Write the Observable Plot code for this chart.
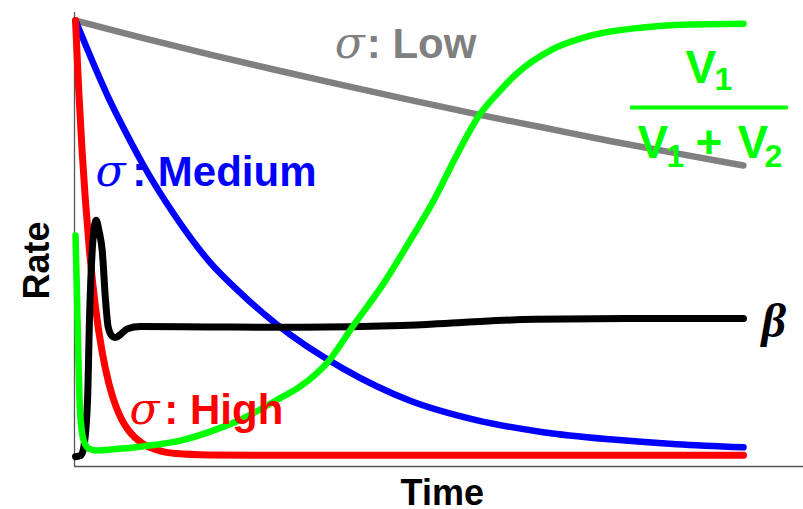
<!DOCTYPE html>
<html>
<head>
<meta charset="utf-8">
<script src="https://cdn.jsdelivr.net/npm/d3@7"></script>
<script src="https://cdn.jsdelivr.net/npm/@observablehq/plot@0.6"></script>
<style>
  body { margin: 0; background: #fff; }
  #chart svg { display: block; }
</style>
</head>
<body>
<div id="chart"></div>
<script>
// Rate curves over normalised time (0 = start, 1 = end of run)

// σ: Low
const timeLow = [0, 0.1, 0.2, 0.3, 0.4, 0.5, 0.6, 0.7, 0.8, 0.9, 1.0];
const rateLow = [1.000, 0.961, 0.924, 0.889, 0.855, 0.822, 0.790, 0.760, 0.730, 0.702, 0.675];

// σ: Medium
const timeMedium = [0, 0.025, 0.05, 0.075, 0.1, 0.15, 0.2, 0.25, 0.3, 0.4, 0.5, 0.6, 0.7, 0.8, 0.9, 1.0];
const rateMedium = [1.0, 0.91, 0.825, 0.75, 0.68, 0.56, 0.46, 0.385, 0.32, 0.22, 0.148, 0.104, 0.077, 0.061, 0.050, 0.043];

// σ: High
const timeHigh = [0, 0.005, 0.01, 0.02, 0.03, 0.04, 0.05, 0.06, 0.07, 0.08, 0.1, 0.12, 0.15, 0.2, 0.3, 0.5, 0.75, 1.0];
const rateHigh = [1.0, 0.839, 0.705, 0.50, 0.356, 0.256, 0.186, 0.137, 0.103, 0.080, 0.052, 0.038, 0.029, 0.026, 0.025, 0.025, 0.025, 0.025];

// β
const timeBeta = [0, 0.008, 0.012, 0.018, 0.021, 0.025, 0.028, 0.031, 0.035, 0.040, 0.045, 0.049, 0.055, 0.060, 0.068, 0.078, 0.097, 0.2, 0.337, 0.488, 0.578, 0.687, 0.846, 1.0];
const rateBeta = [0.022, 0.025, 0.040, 0.148, 0.334, 0.484, 0.535, 0.552, 0.530, 0.484, 0.372, 0.312, 0.292, 0.289, 0.297, 0.309, 0.314, 0.313, 0.312, 0.316, 0.323, 0.330, 0.332, 0.332];

// V1 / (V1 + V2)
const timeShare = [0, 0.002, 0.004, 0.006, 0.009, 0.013, 0.02, 0.03, 0.06, 0.1, 0.157, 0.207, 0.25, 0.3, 0.337, 0.377, 0.416, 0.461, 0.501, 0.536, 0.572, 0.606, 0.626, 0.662, 0.711, 0.771, 0.846, 0.92, 1.0];
const rateShare = [0.518, 0.40, 0.26, 0.15, 0.085, 0.055, 0.040, 0.036, 0.039, 0.045, 0.058, 0.081, 0.107, 0.148, 0.18, 0.233, 0.316, 0.41, 0.507, 0.596, 0.702, 0.791, 0.827, 0.883, 0.933, 0.966, 0.984, 0.991, 0.993];

const colors = {low: "#808080", medium: "#0000ff", high: "#ff0000", beta: "#000000", share: "#00ff00"};

const rows = (ts, vs) => ts.map((t, i) => ({t, rate: vs[i]}));

const sans = "'Liberation Sans', Arial, Helvetica, sans-serif";
const serif = "'Liberation Serif', 'Times New Roman', serif";
const sigmaFont = "'DejaVu Serif', 'Liberation Serif', serif";

const xDomain = [-0.0015, 1.0898];
const yDomain = [0, 1.018];

const curve = (data, color, w) => Plot.line(data, {
  x: "t", y: "rate", stroke: color, strokeWidth: w,
  curve: "monotone-x", strokeLinecap: "round", strokeLinejoin: "round"
});

// σ labels: italic serif σ followed by bold sans text
const sigmaLabels = [
  {name: ": Low",    color: colors.low,    tSigma: 0.388, tText: 0.436, rate: 0.917},
  {name: ": Medium", color: colors.medium, tSigma: 0.0300, tText: 0.0848, rate: 0.630},
  {name: ": High",   color: colors.high,   tSigma: 0.0808, tText: 0.1330, rate: 0.0964}
];

// fraction label anchor (centre of the bar)
const frac = {t: 0.949, rate: 0.805};
const fracHalf = 0.118;

const fracText = (text, dx, dy, size) => Plot.text([frac], {
  x: "t", y: "rate", text: () => text, dx, dy,
  fill: colors.share, fontSize: size, fontWeight: "bold", fontFamily: sans,
  textAnchor: "start", lineAnchor: "bottom"
});

const chart = Plot.plot({
  width: 803,
  height: 509,
  marginLeft: 74,
  marginRight: 0,
  marginTop: 12,
  marginBottom: 43,
  x: {domain: xDomain, axis: null},
  y: {domain: yDomain, axis: null},
  style: {background: "white", overflow: "visible"},
  marks: [
    Plot.ruleX([xDomain[0]], {stroke: "#555", strokeWidth: 1.3}),
    Plot.ruleY([0], {stroke: "#555", strokeWidth: 1.3}),

    curve(rows(timeLow, rateLow), colors.low, 6.5),
    curve(rows(timeMedium, rateMedium), colors.medium, 6.5),
    curve(rows(timeHigh, rateHigh), colors.high, 7),
    curve(rows(timeBeta, rateBeta), colors.beta, 7),
    curve(rows(timeShare, rateShare), colors.share, 6.5),

    // σ labels
    Plot.text(sigmaLabels, {
      x: "tSigma", y: "rate", text: () => "σ", fill: "color",
      fontSize: 44, fontStyle: "italic", fontFamily: sigmaFont,
      textAnchor: "start", lineAnchor: "bottom"
    }),
    Plot.text(sigmaLabels, {
      x: "tText", y: "rate", text: "name", fill: "color",
      fontSize: 42, fontWeight: "bold", fontFamily: sans,
      textAnchor: "start", lineAnchor: "bottom"
    }),

    // β label at the end of its curve
    Plot.text([{t: timeBeta[timeBeta.length - 1], rate: rateBeta[rateBeta.length - 1]}], {
      x: "t", y: "rate", text: () => "β", dx: 18, dy: 3,
      fill: colors.beta, fontSize: 48, fontStyle: "italic", fontWeight: "bold", fontFamily: serif,
      textAnchor: "start", lineAnchor: "middle"
    }),

    // V1 / (V1 + V2)
    fracText("V", -24, -24, 46),
    fracText("1", 5, -17, 32),
    Plot.ruleY([frac], {x1: d => d.t - fracHalf, x2: d => d.t + fracHalf, y: "rate", stroke: colors.share, strokeWidth: 4}),
    fracText("V", -72, 51, 46),
    fracText("1", -43, 60, 32),
    fracText("+", -14, 51, 46),
    fracText("V", 28, 51, 46),
    fracText("2", 55, 60, 32),

    // axis titles
    Plot.text([{t: 0.549, rate: 0}], {
      x: "t", y: "rate", text: () => "Time", dy: 38,
      fontSize: 36, fontWeight: "bold", fontFamily: sans, fill: "#000",
      textAnchor: "middle", lineAnchor: "bottom"
    }),
    Plot.text([{t: xDomain[0], rate: 0.462}], {
      x: "t", y: "rate", text: () => "Rate", dx: -37, rotate: -90,
      fontSize: 36, fontWeight: "bold", fontFamily: sans, fill: "#000",
      textAnchor: "middle", lineAnchor: "middle"
    })
  ]
});

document.getElementById("chart").append(chart);
</script>
</body>
</html>
